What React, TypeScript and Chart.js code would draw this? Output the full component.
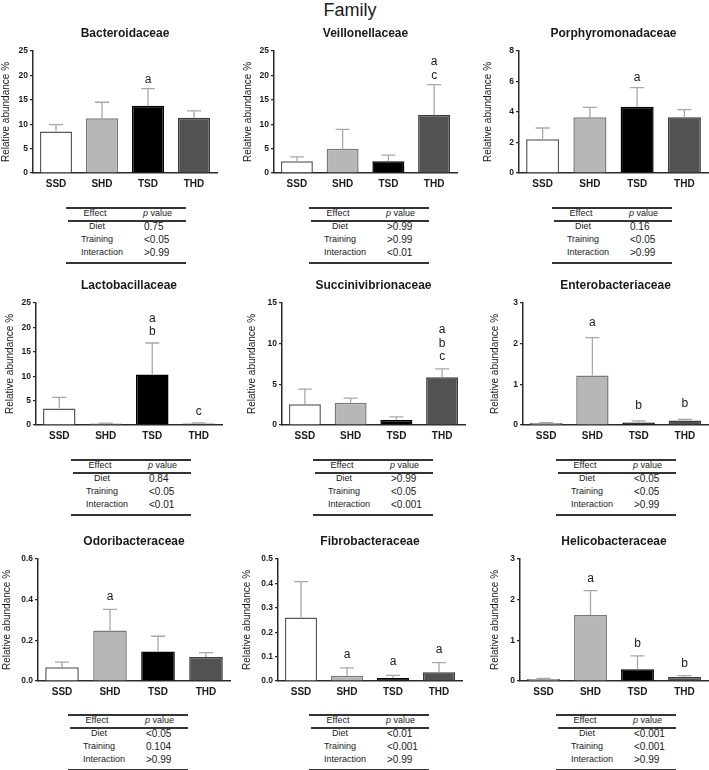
import React, { useEffect, useRef } from "react";
import { Chart, registerables } from "chart.js";

Chart.register(...registerables);

const FONT = "'Liberation Sans', Arial, Helvetica, sans-serif";

// ---------- data ----------
const groups = ["SSD", "SHD", "TSD", "THD"];
const effects = ["Diet", "Training", "Interaction"];
const mainTitle = "Family";
const yAxisTitle = "Relative abundance %";

const bacteroidaceaeMean = [8.5, 11.2, 13.8, 11.3];
const bacteroidaceaeSem = [1.4, 3.3, 3.5, 1.45];
const bacteroidaceaeLetters = [[], [], ["a"], []];
const bacteroidaceaeP = ["0.75", "<0.05", ">0.99"];

const veillonellaceaeMean = [2.4, 4.95, 2.4, 11.9];
const veillonellaceaeSem = [0.9, 4.0, 1.25, 6.2];
const veillonellaceaeLetters = [[], [], [], ["a", "c"]];
const veillonellaceaeP = [">0.99", ">0.99", "<0.01"];

const porphyromonadaceaeMean = [2.22, 3.65, 4.35, 3.65];
const porphyromonadaceaeSem = [0.73, 0.65, 1.25, 0.5];
const porphyromonadaceaeLetters = [[], [], ["a"], []];
const porphyromonadaceaeP = ["0.16", "<0.05", ">0.99"];

const lactobacillaceaeMean = [3.4, 0.3, 10.35, 0.3];
const lactobacillaceaeSem = [2.25, 0.1, 6.45, 0.15];
const lactobacillaceaeLetters = [[], [], ["a", "b"], ["c"]];
const lactobacillaceaeP = ["0.84", "<0.05", "<0.01"];

const succinivibrionaceaeMean = [2.55, 2.75, 0.62, 5.88];
const succinivibrionaceaeSem = [1.85, 0.55, 0.38, 1.02];
const succinivibrionaceaeLetters = [[], [], [], ["a", "b", "c"]];
const succinivibrionaceaeP = [">0.99", "<0.05", "<0.001"];

const enterobacteriaceaeMean = [0.05, 1.22, 0.06, 0.11];
const enterobacteriaceaeSem = [0.01, 0.93, 0.04, 0.03];
const enterobacteriaceaeLetters = [[], ["a"], ["b"], ["b"]];
const enterobacteriaceaeP = ["<0.05", "<0.05", ">0.99"];

const odoribacteraceaeMean = [0.068, 0.248, 0.145, 0.118];
const odoribacteraceaeSem = [0.025, 0.104, 0.075, 0.022];
const odoribacteraceaeLetters = [[], ["a"], [], []];
const odoribacteraceaeP = ["<0.05", "0.104", ">0.99"];

const fibrobacteraceaeMean = [0.26, 0.022, 0.012, 0.036];
const fibrobacteraceaeSem = [0.147, 0.032, 0.011, 0.039];
const fibrobacteraceaeLetters = [[], ["a"], ["a"], ["a"]];
const fibrobacteraceaeP = ["<0.01", "<0.001", ">0.99"];

const helicobacteraceaeMean = [0.05, 1.62, 0.29, 0.1];
const helicobacteraceaeSem = [0.015, 0.6, 0.33, 0.03];
const helicobacteraceaeLetters = [[], ["a"], ["b"], ["b"]];
const helicobacteraceaeP = ["<0.001", "<0.001", ">0.99"];

const yMaxima = [25, 25, 8, 25, 15, 3, 0.6, 0.5, 3];
const yStepSizes = [5, 5, 2, 5, 5, 1, 0.2, 0.1, 1];
const yDecimals = [0, 0, 0, 0, 0, 0, 1, 1, 0];

const panels = [
  { name: "Bacteroidaceae", means: bacteroidaceaeMean, sems: bacteroidaceaeSem, letters: bacteroidaceaeLetters, p: bacteroidaceaeP },
  { name: "Veillonellaceae", means: veillonellaceaeMean, sems: veillonellaceaeSem, letters: veillonellaceaeLetters, p: veillonellaceaeP },
  { name: "Porphyromonadaceae", means: porphyromonadaceaeMean, sems: porphyromonadaceaeSem, letters: porphyromonadaceaeLetters, p: porphyromonadaceaeP },
  { name: "Lactobacillaceae", means: lactobacillaceaeMean, sems: lactobacillaceaeSem, letters: lactobacillaceaeLetters, p: lactobacillaceaeP },
  { name: "Succinivibrionaceae", means: succinivibrionaceaeMean, sems: succinivibrionaceaeSem, letters: succinivibrionaceaeLetters, p: succinivibrionaceaeP },
  { name: "Enterobacteriaceae", means: enterobacteriaceaeMean, sems: enterobacteriaceaeSem, letters: enterobacteriaceaeLetters, p: enterobacteriaceaeP },
  { name: "Odoribacteraceae", means: odoribacteraceaeMean, sems: odoribacteraceaeSem, letters: odoribacteraceaeLetters, p: odoribacteraceaeP },
  { name: "Fibrobacteraceae", means: fibrobacteraceaeMean, sems: fibrobacteraceaeSem, letters: fibrobacteraceaeLetters, p: fibrobacteraceaeP },
  { name: "Helicobacteraceae", means: helicobacteraceaeMean, sems: helicobacteraceaeSem, letters: helicobacteraceaeLetters, p: helicobacteraceaeP },
];

// ---------- layout / style ----------
const layouts = [
  { axisX: 33, endX: 217, plotTop: 50.7, zeroY: 172.5, titleOff: 27, tableX: 66, tableTop: 207, letterGap: 6 },
  { axisX: 274, endX: 457, plotTop: 50.7, zeroY: 172.5, titleOff: 26, tableX: 309, tableTop: 207, letterGap: 6 },
  { axisX: 519, endX: 708, plotTop: 50.7, zeroY: 172.5, titleOff: 31, tableX: 552, tableTop: 207, letterGap: 7 },
  { axisX: 36, endX: 222, plotTop: 303, zeroY: 425, titleOff: 26, tableX: 71, tableTop: 459, letterGap: 8 },
  { axisX: 282, endX: 465, plotTop: 303, zeroY: 425, titleOff: 30, tableX: 313, tableTop: 459, letterGap: 9 },
  { axisX: 523, endX: 708, plotTop: 303, zeroY: 425, titleOff: 28, tableX: 556, tableTop: 459, letterGap: 12 },
  { axisX: 38, endX: 230, plotTop: 559, zeroY: 681, titleOff: 31, tableX: 68, tableTop: 714, letterGap: 9 },
  { axisX: 278, endX: 462, plotTop: 559, zeroY: 681, titleOff: 31, tableX: 309, tableTop: 714, letterGap: 10 },
  { axisX: 520, endX: 708, plotTop: 559, zeroY: 681, titleOff: 25, tableX: 556, tableTop: 714, letterGap: 9 },
];

const barFill = ["#ffffff", "#b7b7b7", "#000000", "#525252"];
const barBorder = ["#5a5a5a", "#7a7a7a", "#000000", "#3c3c3c"];
const axisColor = "#2a2a2a";
const textColor = "#1a1a1a";
const errColor = "#a8a8a8";

function Panel({ index }: { index: number }) {
  const ref = useRef<HTMLCanvasElement | null>(null);
  const d = panels[index];
  const L = layouts[index];
  const wy = L.titleOff + 6;
  const left = L.axisX - wy;
  const top = L.plotTop - 32;
  const rightPad = Math.max(0, Math.min(3, 709 - L.endX));
  const width = Math.round(L.endX - left + rightPad);
  const height = Math.round(L.zeroY - top + 20);

  useEffect(() => {
    const decimals = yDecimals[index];
    const overlay = {
      id: "errAndLetters" + index,
      afterDatasetsDraw(chart: any) {
        const meta = chart.getDatasetMeta(0);
        const ys = chart.scales.y;
        const ctx = chart.ctx;
        ctx.save();
        meta.data.forEach((bar: any, i: number) => {
          const topPx = ys.getPixelForValue(d.means[i] + d.sems[i]);
          ctx.strokeStyle = errColor;
          ctx.lineWidth = 1.3;
          ctx.beginPath();
          ctx.moveTo(bar.x, bar.y);
          ctx.lineTo(bar.x, topPx);
          ctx.moveTo(bar.x - 7, topPx);
          ctx.lineTo(bar.x + 7, topPx);
          ctx.stroke();
          const lets = d.letters[i];
          ctx.fillStyle = textColor;
          ctx.font = `12px ${FONT}`;
          ctx.textAlign = "center";
          ctx.textBaseline = "alphabetic";
          for (let k = 0; k < lets.length; k++) {
            const fromBottom = lets.length - 1 - k;
            ctx.fillText(lets[k], bar.x, topPx - L.letterGap - fromBottom * 13.3);
          }
        });
        const ca = chart.chartArea;
        ctx.font = `bold 12px ${FONT}`;
        ctx.textAlign = "center";
        ctx.fillStyle = textColor;
        ctx.fillText(d.name, (ca.left + ca.right) / 2, ca.top - 14);
        ctx.restore();
      },
    };
    const chart = new Chart(ref.current as HTMLCanvasElement, {
      type: "bar",
      data: {
        labels: groups,
        datasets: [
          {
            data: d.means,
            backgroundColor: barFill,
            borderColor: barBorder,
            borderWidth: 1.5,
            barPercentage: 0.7,
            categoryPercentage: 1,
          },
        ],
      },
      options: {
        responsive: false,
        animation: false,
        devicePixelRatio: 1,
        layout: { padding: { top: 32, right: rightPad, bottom: 0, left: 0 } },
        plugins: { legend: { display: false }, tooltip: { enabled: false }, title: { display: false } },
        scales: {
          x: {
            grid: { display: false, drawTicks: false },
            border: { display: true, color: axisColor, width: 1.5 },
            ticks: { font: { family: FONT, size: 10, weight: "bold" }, color: textColor, padding: 5 },
            afterFit: (s: any) => {
              s.height = 20;
            },
          },
          y: {
            min: 0,
            max: yMaxima[index],
            ticks: {
              stepSize: yStepSizes[index],
              font: { family: FONT, size: 8.5, weight: "bold" },
              color: textColor,
              padding: 2,
              callback: (v: any) => Number(v).toFixed(decimals),
            },
            grid: { drawOnChartArea: false, drawTicks: true, tickLength: 3, color: axisColor, lineWidth: 1.2 },
            border: { display: true, color: axisColor, width: 1.5 },
            title: {
              display: true,
              text: yAxisTitle,
              font: { family: FONT, size: 10 },
              color: textColor,
              padding: { top: 0, bottom: 0 },
            },
            afterFit: (s: any) => {
              s.width = wy;
            },
          },
        },
      } as any,
      plugins: [overlay],
    });
    return () => chart.destroy();
  }, []);

  return (
    <canvas
      ref={ref}
      width={width}
      height={height}
      style={{ position: "absolute", left, top, width, height }}
    />
  );
}

function PTable({ index }: { index: number }) {
  const L = layouts[index];
  const d = panels[index];
  const line = (y: number, x0: number) => (
    <div style={{ position: "absolute", left: x0, top: y, width: 120 - x0, height: 1.5, background: "#333" }} />
  );
  const labelStyle: React.CSSProperties = {
    position: "absolute",
    left: 0,
    width: 62,
    textAlign: "center",
    fontSize: 9,
    lineHeight: "13px",
    height: 13,
    whiteSpace: "nowrap",
  };
  const valueStyle: React.CSSProperties = {
    position: "absolute",
    left: 78,
    fontSize: 10,
    lineHeight: "13px",
    height: 13,
    whiteSpace: "nowrap",
  };
  return (
    <div style={{ position: "absolute", left: L.tableX, top: L.tableTop, width: 120, height: 57, color: textColor, fontFamily: FONT }}>
      {line(0, 0)}
      {line(13, 2)}
      {line(55, 0)}
      <div style={{ ...labelStyle, top: 0, width: 58 }}>Effect</div>
      <div style={{ ...valueStyle, top: 0, left: 77, fontSize: 9 }}>
        <i>p</i> value
      </div>
      {effects.map((e, i) => (
        <React.Fragment key={e}>
          <div style={{ ...labelStyle, top: 13 + 13 * i, width: e === "Interaction" ? 72 : 62 }}>{e}</div>
          <div style={{ ...valueStyle, top: 13 + 13 * i }}>{d.p[i]}</div>
        </React.Fragment>
      ))}
    </div>
  );
}

export default function App() {
  return (
    <div
      style={{
        position: "absolute",
        left: 0,
        top: 0,
        width: 709,
        height: 770,
        overflow: "hidden",
        background: "#ffffff",
        fontFamily: FONT,
      }}
    >
      <div
        style={{
          position: "absolute",
          left: 0,
          top: 0,
          width: 700,
          textAlign: "center",
          fontSize: 18,
          lineHeight: "20px",
          color: textColor,
        }}
      >
        {mainTitle}
      </div>
      {panels.map((_, i) => (
        <Panel key={"c" + i} index={i} />
      ))}
      {panels.map((_, i) => (
        <PTable key={"t" + i} index={i} />
      ))}
    </div>
  );
}
